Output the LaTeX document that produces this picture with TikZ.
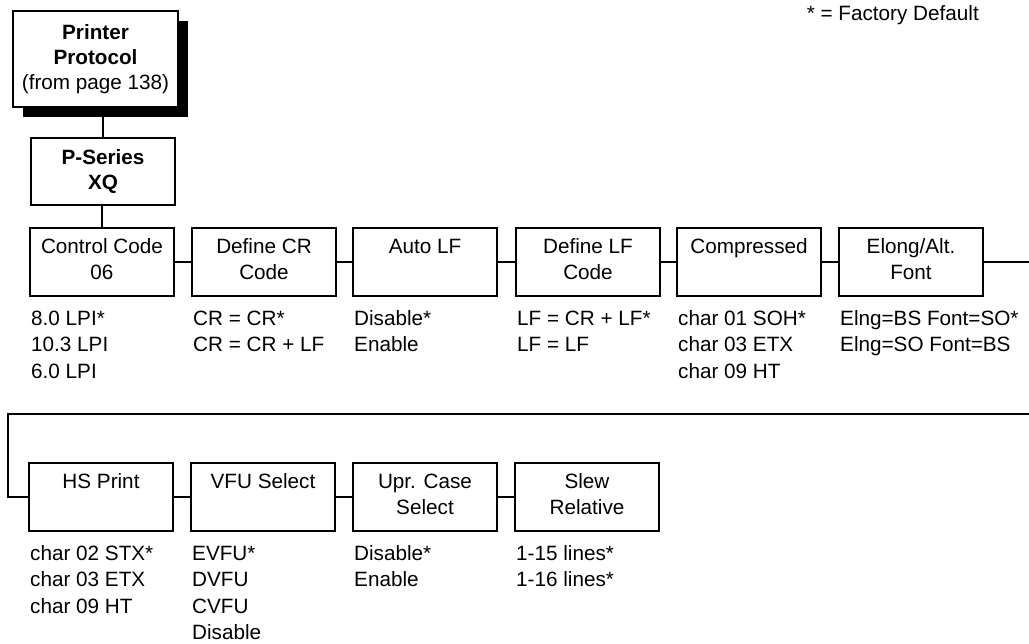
\documentclass[tikz,border=0pt]{standalone}
\usepackage{fontspec}
\setmainfont{Liberation Sans}
\usetikzlibrary{backgrounds}
\newcommand\mbtext[1]{\parbox[c][68pt][t]{144pt}{\centering\vspace*{6.5pt}\strut#1}}
\tikzset{
  basefont/.style={font=\fontsize{20.7}{26.5}\selectfont},
  menubox/.style={draw,line width=2pt,anchor=north west,inner sep=0pt,outer sep=0pt,basefont},
  headbox/.style={draw,line width=2pt,fill=white,anchor=north west,inner sep=0pt,outer sep=0pt,align=center,font=\fontsize{20.7}{25}\selectfont},
  opts/.style={anchor=north west,inner sep=0pt,align=left,basefont},
  conn/.style={line width=2pt},
}
\begin{document}
\begin{tikzpicture}[x=1pt,y=-1pt]
\useasboundingbox (0,0) rectangle (1029,644);
% header boxes
\node[headbox,minimum width=165pt,minimum height=96pt] (pp) at (13,11)
  {\textbf{Printer}\\\textbf{Protocol}\\(from page 138)};
\begin{scope}[on background layer]
  \fill ([shift={(10pt,-10pt)}]pp.north west) rectangle ([shift={(10pt,-10pt)}]pp.south east);
\end{scope}
\node[headbox,minimum width=144pt,minimum height=67pt] (ps) at (31,138)
  {\textbf{P-Series}\\\textbf{XQ}};
\node[basefont,anchor=base east,inner sep=0pt] (fd) at (979,21) {* = Factory Default};
% row 1
\node[menubox] (c1) at (30,228)  {\mbtext{Control Code\\06}};
\node[menubox] (c2) at (192,228) {\mbtext{Define CR\\Code}};
\node[menubox] (c3) at (353,228) {\mbtext{Auto LF}};
\node[menubox] (c4) at (516,228) {\mbtext{Define LF\\Code}};
\node[menubox] (c5) at (677,228) {\mbtext{Compressed}};
\node[menubox] (c6) at (839,228) {\mbtext{Elong/Alt.\\Font}};
% row 2
\node[menubox] (d1) at (29,463)  {\mbtext{HS Print}};
\node[menubox] (d2) at (191,463) {\mbtext{VFU Select}};
\node[menubox] (d3) at (353,463) {\mbtext{Upr. Case\\Select}};
\node[menubox] (d4) at (515,463) {\mbtext{Slew\\Relative}};
% options
\node[opts] (o1) at ([xshift=1pt,yshift=-10.5pt]c1.south west) {\strut 8.0 LPI*\\10.3 LPI\\6.0 LPI};
\node[opts] (o2) at ([xshift=1pt,yshift=-10.5pt]c2.south west) {\strut CR = CR*\\CR = CR + LF};
\node[opts] (o3) at ([xshift=1pt,yshift=-10.5pt]c3.south west) {\strut Disable*\\Enable};
\node[opts] (o4) at ([xshift=1pt,yshift=-10.5pt]c4.south west) {\strut LF = CR + LF*\\LF = LF};
\node[opts] (o5) at ([xshift=1pt,yshift=-10.5pt]c5.south west) {\strut char 01 SOH*\\char 03 ETX\\char 09 HT};
\node[opts] (o6) at ([xshift=1pt,yshift=-10.5pt]c6.south west) {\strut Elng=BS Font=SO*\\Elng=SO Font=BS};
\node[opts] (p1) at ([xshift=1pt,yshift=-10.5pt]d1.south west) {\strut char 02 STX*\\char 03 ETX\\char 09 HT};
\node[opts] (p2) at ([xshift=1pt,yshift=-10.5pt]d2.south west) {\strut EVFU*\\DVFU\\CVFU\\Disable};
\node[opts] (p3) at ([xshift=1pt,yshift=-10.5pt]d3.south west) {\strut Disable*\\Enable};
\node[opts] (p4) at ([xshift=1pt,yshift=-10.5pt]d4.south west) {\strut 1-15 lines*\\1-16 lines*};
% connectors
\coordinate (r1) at (1030,260);
\coordinate (r2) at (1030,414);
\coordinate (l2) at (8,414);
\draw[conn] (ps.north |- pp.south) -- (ps.north);
\draw[conn] (c1.north |- ps.south) -- (c1.north);
\draw[conn] (c1.east) -- (c2.west);
\draw[conn] (c2.east) -- (c3.west);
\draw[conn] (c3.east) -- (c4.west);
\draw[conn] (c4.east) -- (c5.west);
\draw[conn] (c5.east) -- (c6.west);
\draw[conn] (c6.east) -- (c6.east -| r1);
\draw[conn] (r2) -- (l2) |- (d1.west);
\draw[conn] (d1.east) -- (d2.west);
\draw[conn] (d2.east) -- (d3.west);
\draw[conn] (d3.east) -- (d4.west);
\end{tikzpicture}
\end{document}
